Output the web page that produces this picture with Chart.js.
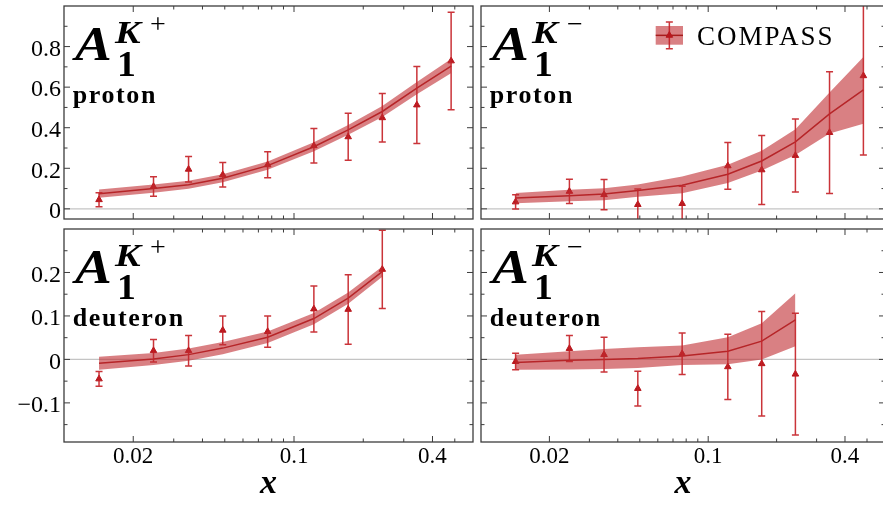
<!DOCTYPE html>
<html>
<head>
<meta charset="utf-8">
<script src="https://cdn.jsdelivr.net/npm/chart.js@4.4.1/dist/chart.umd.min.js"></script>
<style>
  html, body { margin: 0; padding: 0; background: #fff; overflow: hidden; width: 883px; height: 506px; }
  canvas { position: absolute; }
</style>
</head>
<body>
<canvas id="kpProton" width="478" height="224" style="left:0;top:0"></canvas>
<canvas id="kmProton" width="414" height="224" style="left:476px;top:0"></canvas>
<canvas id="kpDeuteron" width="478" height="282" style="left:0;top:224px"></canvas>
<canvas id="kmDeuteron" width="414" height="282" style="left:476px;top:224px"></canvas>
<script>
// x bins of the COMPASS data
const xBins = [0.0142, 0.0245, 0.0348, 0.049, 0.0768, 0.122, 0.172, 0.242, 0.342, 0.482];

// proton, K+
const kpProtonA1 = [0.045, 0.11, 0.195, 0.168, 0.217, 0.311, 0.355, 0.449, 0.512, 0.729];
const kpProtonErr = [0.035, 0.048, 0.063, 0.06, 0.064, 0.085, 0.116, 0.12, 0.19, 0.24];
const kpProtonFit = [0.075, 0.1, 0.119, 0.151, 0.213, 0.306, 0.389, 0.48, 0.595, 0.704];
const kpProtonLo = [0.055, 0.08, 0.099, 0.131, 0.193, 0.284, 0.365, 0.453, 0.565, 0.669];
const kpProtonHi = [0.095, 0.12, 0.139, 0.171, 0.233, 0.328, 0.413, 0.507, 0.625, 0.739];

// proton, K-
const kmProtonA1 = [0.034, 0.086, 0.07, 0.021, 0.026, 0.212, 0.192, 0.263, 0.376, 0.656];
const kmProtonErr = [0.035, 0.06, 0.075, 0.077, 0.086, 0.115, 0.17, 0.18, 0.3, 0.39];
const kmProtonFit = [0.054, 0.065, 0.073, 0.09, 0.116, 0.171, 0.236, 0.33, 0.468, 0.587];
const kmProtonLo = [0.028, 0.037, 0.042, 0.06, 0.077, 0.127, 0.189, 0.265, 0.371, 0.42];
const kmProtonHi = [0.078, 0.094, 0.102, 0.12, 0.159, 0.217, 0.286, 0.392, 0.574, 0.748];

// deuteron, K+
const kpDeuteronA1 = [-0.045, 0.02, 0.02, 0.067, 0.064, 0.116, 0.115, 0.207];
const kpDeuteronErr = [0.017, 0.026, 0.035, 0.033, 0.036, 0.053, 0.08, 0.09];
const kpDeuteronFit = [-0.009, 0.001, 0.011, 0.026, 0.051, 0.094, 0.141, 0.202];
const kpDeuteronLo = [-0.024, -0.013, -0.003, 0.012, 0.038, 0.081, 0.128, 0.19];
const kpDeuteronHi = [0.006, 0.015, 0.025, 0.04, 0.064, 0.107, 0.154, 0.214];

// deuteron, K-
const kmDeuteronA1 = [-0.005, 0.025, 0.011, -0.067, 0.013, -0.017, -0.01, -0.034];
const kmDeuteronErr = [0.019, 0.03, 0.04, 0.04, 0.048, 0.075, 0.12, 0.14];
const kmDeuteronFit = [-0.007, -0.002, 0.0, 0.002, 0.008, 0.019, 0.042, 0.091];
const kmDeuteronLo = [-0.024, -0.023, -0.022, -0.02, -0.013, -0.011, 0.0, 0.03];
const kmDeuteronHi = [0.011, 0.019, 0.024, 0.028, 0.032, 0.051, 0.083, 0.152];

// ticks
const xTicks = [0.02, 0.1, 0.4];
const xMinor = [0.03, 0.04, 0.05, 0.06, 0.07, 0.08, 0.09, 0.2, 0.3, 0.5];
const yTicksProton = [0, 0.2, 0.4, 0.6, 0.8];
const yMinorProton = [0.1, 0.3, 0.5, 0.7, 0.9];
const yTicksDeuteron = [-0.1, 0, 0.1, 0.2];
const yMinorDeuteron = [-0.15, -0.05, 0.05, 0.15, 0.25];

const legendText = 'COMPASS';

const SERIF = '"Liberation Serif", "DejaVu Serif", serif';
const BAND = 'rgba(192,44,48,0.6)';
const LINE = '#a81c1c';
const ERR = 'rgba(196,30,36,0.9)';
const MARK = '#b8181e';

function pts(xs, ys) {
  return ys.map((y, i) => ({x: xs[i], y: y}));
}

function stretchText(ctx, txt, x, y, font, sx) {
  ctx.save();
  ctx.font = font;
  ctx.translate(x, y);
  ctx.scale(sx, 1);
  ctx.fillText(txt, 0, 0);
  ctx.restore();
}

function drawErrBar(ctx, px, y1, y2) {
  ctx.beginPath();
  ctx.moveTo(px, y1); ctx.lineTo(px, y2);
  ctx.moveTo(px - 3.5, y1); ctx.lineTo(px + 3.5, y1);
  ctx.moveTo(px - 3.5, y2); ctx.lineTo(px + 3.5, y2);
  ctx.stroke();
}

// keep the chart area where the layout padding puts it
function noScalePad(s) {
  s.paddingTop = 0; s.paddingBottom = 0; s.paddingLeft = 0; s.paddingRight = 0;
}

function makePanel(id, p) {
  const yMajor = p.top ? yTicksProton : yTicksDeuteron;
  const yMinor = p.top ? yMinorProton : yMinorDeuteron;

  const panelPlugin = {
    id: 'panel_' + id,
    beforeDatasetsDraw(chart) {
      const {ctx, chartArea: a, scales: {y}} = chart;
      const y0 = y.getPixelForValue(0);
      ctx.save();
      ctx.strokeStyle = '#c4c4c4';
      ctx.lineWidth = 1.2;
      ctx.beginPath();
      ctx.moveTo(a.left, y0); ctx.lineTo(a.right, y0);
      ctx.stroke();
      ctx.restore();
    },
    afterDatasetDraw(chart, args) {
      if (args.index !== 2) return;
      const {ctx, chartArea: a, scales: {x, y}} = chart;
      ctx.save();
      ctx.beginPath();
      ctx.rect(a.left, a.top, a.right - a.left, a.bottom - a.top);
      ctx.clip();
      ctx.strokeStyle = ERR;
      ctx.lineWidth = 1.5;
      p.a1.forEach((v, i) => {
        const px = x.getPixelForValue(p.x[i]);
        drawErrBar(ctx, px, y.getPixelForValue(v - p.err[i]), y.getPixelForValue(v + p.err[i]));
      });
      ctx.restore();
    },
    afterDraw(chart) {
      const {ctx, chartArea: a, scales: {x, y}} = chart;
      ctx.save();
      ctx.strokeStyle = '#3c3c3c';
      ctx.lineWidth = 1;
      const seg = (x1, y1, x2, y2) => { ctx.beginPath(); ctx.moveTo(x1, y1); ctx.lineTo(x2, y2); ctx.stroke(); };
      xTicks.forEach(v => { const q = x.getPixelForValue(v); seg(q, a.top, q, a.top + 6); seg(q, a.bottom, q, a.bottom - 6); });
      xMinor.forEach(v => { const q = x.getPixelForValue(v); seg(q, a.top, q, a.top + 3.5); seg(q, a.bottom, q, a.bottom - 3.5); });
      yMajor.forEach(v => { const q = y.getPixelForValue(v); seg(a.left, q, a.left + 6, q); seg(a.right, q, a.right - 6, q); });
      yMinor.forEach(v => { const q = y.getPixelForValue(v); seg(a.left, q, a.left + 3.5, q); seg(a.right, q, a.right - 3.5, q); });
      ctx.lineWidth = 1.3;
      ctx.strokeRect(a.left, a.top, a.right - a.left, a.bottom - a.top);

      // panel label A_1^{K+-} and target
      const x0 = a.left + 11, t = a.top;
      ctx.fillStyle = '#000';
      ctx.textAlign = 'left';
      ctx.textBaseline = 'alphabetic';
      stretchText(ctx, 'A', x0, t + 54, 'bold italic 48px ' + SERIF, 1.15);
      stretchText(ctx, 'K', x0 + 40, t + 36.7, 'bold italic 32px ' + SERIF, 1.2);
      stretchText(ctx, p.charge, x0 + 75, t + 26.5, '28px ' + SERIF, 1.0);
      stretchText(ctx, '1', x0 + 42, t + 69.5, 'bold 36px ' + SERIF, 1.05);
      ctx.font = 'bold 26px ' + SERIF;
      ctx.letterSpacing = '1.6px';
      ctx.fillText(p.target, x0 - 2.3, t + 96.5);
      ctx.letterSpacing = '0px';

      if (p.legend) {
        const lx = a.left + 174.7, ly = a.top + 20;
        ctx.fillStyle = BAND;
        ctx.fillRect(lx, ly, 27.3, 18.7);
        const cx = lx + 13.65, cy = ly + 9.35;
        ctx.strokeStyle = LINE;
        ctx.lineWidth = 1.5;
        ctx.beginPath(); ctx.moveTo(lx, cy); ctx.lineTo(lx + 27.3, cy); ctx.stroke();
        ctx.strokeStyle = ERR;
        drawErrBar(ctx, cx, cy - 13.3, cy + 13.3);
        ctx.fillStyle = MARK;
        ctx.strokeStyle = MARK;
        ctx.lineWidth = 1;
        Chart.helpers.drawPoint(ctx, {pointStyle: 'triangle', radius: 3.8, rotation: 0, borderWidth: 1}, cx, cy);
        ctx.fillStyle = '#000';
        ctx.font = '27px ' + SERIF;
        ctx.letterSpacing = '2px';
        ctx.fillText(legendText, a.left + 216, a.top + 39);
        ctx.letterSpacing = '0px';
      }
      ctx.restore();
    }
  };

  return new Chart(document.getElementById(id), {
    type: 'line',
    data: {
      datasets: [
        {data: pts(p.x, p.hi), borderWidth: 0, pointRadius: 0, fill: false},
        {data: pts(p.x, p.lo), borderWidth: 0, pointRadius: 0, fill: '-1', backgroundColor: BAND},
        {data: pts(p.x, p.fit), borderColor: LINE, borderWidth: 1.5, pointRadius: 0, fill: false},
        {data: pts(p.x, p.a1), showLine: false, pointStyle: 'triangle', pointRadius: 3.8,
         backgroundColor: MARK, borderColor: MARK, borderWidth: 1}
      ]
    },
    options: {
      responsive: false,
      animation: false,
      events: [],
      layout: {padding: p.pad},
      plugins: {legend: {display: false}, tooltip: {enabled: false}},
      scales: {
        x: {
          type: 'logarithmic',
          min: 0.01,
          max: 0.6,
          grid: {display: false, drawTicks: false},
          border: {display: false},
          afterBuildTicks: s => { s.ticks = xTicks.map(v => ({value: v})); },
          afterFit: s => { s.height = p.top ? 0 : 64; noScalePad(s); },
          ticks: {
            display: !p.top, color: '#000', padding: 1, maxRotation: 0, autoSkip: false,
            font: {family: SERIF, size: 23},
            callback: v => String(v)
          },
          title: {
            display: !p.top, text: 'x', color: '#000',
            font: {family: SERIF, size: 34, style: 'italic', weight: 'bold'},
            padding: {top: 0, bottom: 1}
          }
        },
        y: {
          min: p.top ? -0.05 : -0.19,
          max: p.top ? 1.0 : 0.3,
          grid: {display: false, drawTicks: false},
          border: {display: false},
          afterBuildTicks: s => { s.ticks = yMajor.map(v => ({value: v})); },
          afterFit: s => { s.width = p.left ? 64 : 0; noScalePad(s); },
          ticks: {
            display: p.left, color: '#000', padding: 3, labelOffset: 3,
            font: {family: SERIF, size: 24},
            callback: v => v < 0 ? '\u2212' + String(-v) : String(v)
          }
        }
      }
    },
    plugins: [panelPlugin]
  });
}

makePanel('kpProton', {
  top: true, left: true, charge: '+', target: 'proton',
  x: xBins, a1: kpProtonA1, err: kpProtonErr, fit: kpProtonFit, lo: kpProtonLo, hi: kpProtonHi,
  pad: {left: 0, top: 6, right: 4, bottom: 1}
});
makePanel('kmProton', {
  top: true, left: false, charge: '\u2212', target: 'proton', legend: true,
  x: xBins, a1: kmProtonA1, err: kmProtonErr, fit: kmProtonFit, lo: kmProtonLo, hi: kmProtonHi,
  pad: {left: 2, top: 6, right: 2, bottom: 1}
});
makePanel('kpDeuteron', {
  top: false, left: true, charge: '+', target: 'deuteron',
  x: xBins, a1: kpDeuteronA1, err: kpDeuteronErr, fit: kpDeuteronFit, lo: kpDeuteronLo, hi: kpDeuteronHi,
  pad: {left: 0, top: 1, right: 4, bottom: 0}
});
makePanel('kmDeuteron', {
  top: false, left: false, charge: '\u2212', target: 'deuteron',
  x: xBins, a1: kmDeuteronA1, err: kmDeuteronErr, fit: kmDeuteronFit, lo: kmDeuteronLo, hi: kmDeuteronHi,
  pad: {left: 2, top: 1, right: 2, bottom: 0}
});
</script>
</body>
</html>
